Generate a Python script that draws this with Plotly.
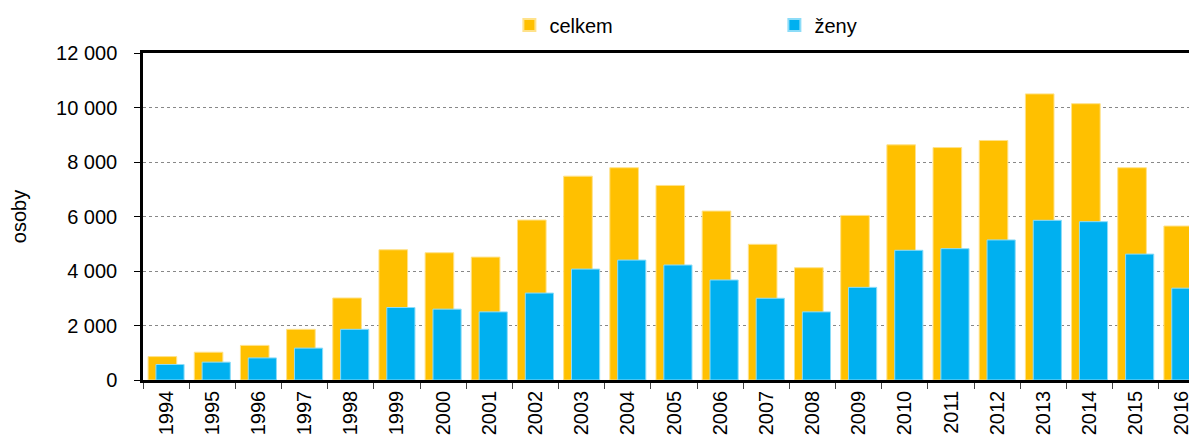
import plotly.graph_objects as go


# Data
years = [str(y) for y in range(1994, 2017)]
celkem = [860, 1020, 1270, 1860, 3010, 4780, 4670, 4510, 5870, 7480,
          7790, 7140, 6200, 4980, 4120, 6040, 8630, 8530, 8790, 10500,
          10140, 7790, 5650]
zeny = [570, 655, 810, 1170, 1860, 2660, 2600, 2500, 3190, 4070,
        4400, 4220, 3670, 3000, 2500, 3400, 4760, 4820, 5140, 5860,
        5810, 4620, 3370]
y_ticks = [0, 2000, 4000, 6000, 8000, 10000, 12000]

ORANGE = '#FFC000'
BLUE = '#00B0F0'
FONT = 'Liberation Sans, Arial, sans-serif'


def build_figure():
    fig = go.Figure()
    fig.add_trace(go.Bar(x=years, y=celkem, name='celkem',
                         marker=dict(color=ORANGE, line=dict(color='#FFE28A', width=1)),
                         width=0.62, offset=-0.39))
    fig.add_trace(go.Bar(x=years, y=zeny, name='ženy',
                         marker=dict(color=BLUE, line=dict(color='#8CDCF8', width=1)),
                         width=0.61, offset=-0.22))

    # the page body has an 8px margin, so the figure is shifted by that much
    fig.update_layout(
        width=1197, height=439, autosize=False,
        barmode='overlay',
        separators=', ',
        plot_bgcolor='white', paper_bgcolor='white',
        margin=dict(l=135, r=0, t=45, b=67, autoexpand=False),
        font=dict(family=FONT, size=20, color='black'),
        legend=dict(orientation='h', x=0.345, xanchor='left', y=1.0856, yanchor='middle',
                    entrywidth=220, entrywidthmode='pixels',
                    font=dict(size=20), itemsizing='constant'),
    )
    fig.update_xaxes(
        type='category', range=[-0.5, 22.5], automargin=False,
        showline=True, linecolor='black', linewidth=2.5, mirror=True, layer='below traces',
        tickson='boundaries', ticks='outside', ticklen=6, tickcolor='#444',
        tickangle=-90, showgrid=False, tickfont=dict(size=20),
    )
    fig.update_yaxes(
        range=[0, 12000], tickvals=y_ticks, tickformat=',d', automargin=False,
        showline=True, linecolor='black', linewidth=2.5, mirror=True,
        ticks='outside', ticklen=6, tickcolor='black', ticklabelstandoff=13,
        tickfont=dict(size=20),
        showgrid=True, gridcolor='#888888', griddash='dot', gridwidth=1,
        zeroline=False,
        title=dict(text='osoby', font=dict(size=20), standoff=26),
    )
    return fig


if __name__ == '__main__':
    fig = build_figure()
    fig.write_html('out.html')
